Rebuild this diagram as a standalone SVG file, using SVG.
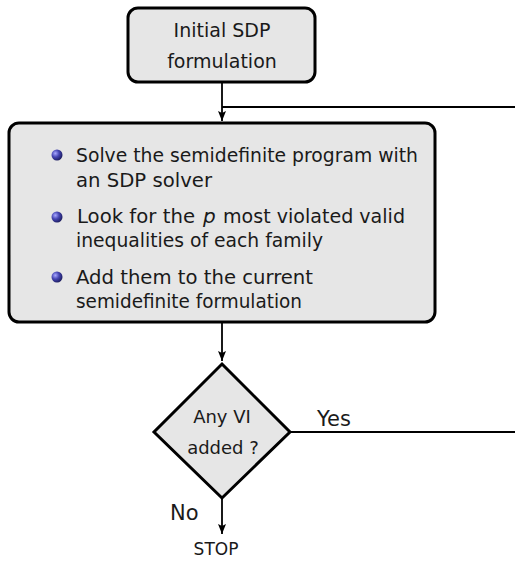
<svg xmlns="http://www.w3.org/2000/svg" width="515" height="566" viewBox="0 0 515 566">
<defs>
<radialGradient id="ball" cx="0.35" cy="0.35" r="0.75">
<stop offset="0" stop-color="#a8a8ff"/>
<stop offset="0.45" stop-color="#4646b4"/>
<stop offset="1" stop-color="#141450"/>
</radialGradient>
<marker id="arr" viewBox="0 0 10 8" refX="10" refY="4" markerWidth="10" markerHeight="8" markerUnits="userSpaceOnUse" orient="auto">
<path d="M0,0 L10,4 L0,8 L2,4 Z" fill="#000"/>
</marker>
</defs>
<style>
.box{fill:#e6e6e6;stroke:#000;stroke-width:3}
.t{font-family:"DejaVu Sans",sans-serif;fill:#1a1a1a}
.c{stroke:#000;stroke-width:1.8;fill:none}
</style>
<g id="connectors">
<line class="c" x1="222" y1="82" x2="222" y2="121" marker-end="url(#arr)"/>
<line class="c" x1="222" y1="107" x2="515" y2="107"/>
<line class="c" x1="222" y1="322" x2="222" y2="361" marker-end="url(#arr)"/>
<line class="c" x1="290" y1="432" x2="515" y2="432"/>
<line class="c" x1="222" y1="498" x2="222" y2="534" marker-end="url(#arr)"/>
<text class="t" x="317" y="426" font-size="21">Yes</text>
<text class="t" x="170" y="520" font-size="21">No</text>
</g>
<g id="init">
<rect class="box" x="128" y="8" width="187" height="74" rx="10"/>
<text class="t" x="222" y="37" font-size="19" text-anchor="middle">Initial SDP</text>
<text class="t" x="222" y="68" font-size="19" text-anchor="middle">formulation</text>
</g>
<g id="main">
<rect class="box" x="9" y="123" width="426" height="199" rx="10"/>
<circle cx="57" cy="155" r="5.5" fill="url(#ball)"/>
<circle cx="57" cy="217" r="5.5" fill="url(#ball)"/>
<circle cx="57" cy="277" r="5.5" fill="url(#ball)"/>
<text class="t" font-size="20" x="76" y="162" textLength="342" lengthAdjust="spacingAndGlyphs">Solve the semidefinite program with</text>
<text class="t" font-size="20" x="76" y="187" textLength="136" lengthAdjust="spacingAndGlyphs">an SDP solver</text>
<text class="t" font-size="20" x="77" y="223" textLength="118" lengthAdjust="spacingAndGlyphs">Look for the</text>
<text class="t" font-size="20" x="203" y="223" font-style="italic">p</text>
<text class="t" font-size="20" x="223" y="223" textLength="182" lengthAdjust="spacingAndGlyphs">most violated valid</text>
<text class="t" font-size="20" x="76" y="247" textLength="247" lengthAdjust="spacingAndGlyphs">inequalities of each family</text>
<text class="t" font-size="20" x="76" y="284" textLength="237" lengthAdjust="spacingAndGlyphs">Add them to the current</text>
<text class="t" font-size="20" x="76" y="308" textLength="226" lengthAdjust="spacingAndGlyphs">semidefinite formulation</text>
</g>
<g id="decision">
<polygon class="box" points="222,364 290,432 222,498 154,432"/>
<text class="t" x="222" y="423" font-size="18" text-anchor="middle">Any VI</text>
<text class="t" x="223" y="454" font-size="18" text-anchor="middle">added ?</text>
</g>
<g id="stop">
<text class="t" x="216" y="555" font-size="17" text-anchor="middle">STOP</text>
</g>
</svg>
